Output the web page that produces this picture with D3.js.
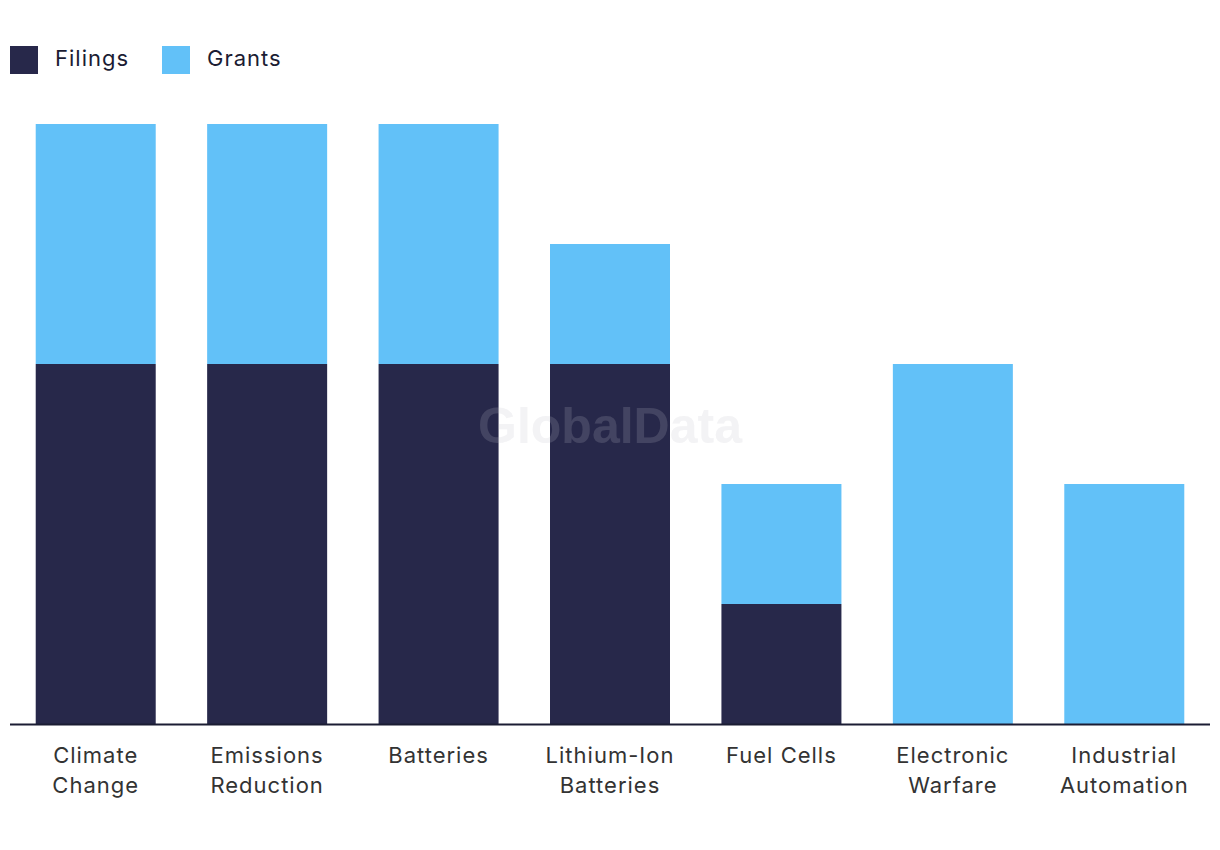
<!DOCTYPE html>
<html>
<head>
<meta charset="utf-8">
<script src="https://cdn.jsdelivr.net/npm/d3@7"></script>
<style>
  body { margin: 0; background: #fff; }
  svg { font-family: Inter, Roboto, "Noto Sans", sans-serif; }
</style>
</head>
<body>
<div id="chart"></div>
<script>
const categories = ['Climate Change', 'Emissions Reduction', 'Batteries', 'Lithium-Ion Batteries', 'Fuel Cells', 'Electronic Warfare', 'Industrial Automation'];
const labelLines = [['Climate', 'Change'], ['Emissions', 'Reduction'], ['Batteries'], ['Lithium-Ion', 'Batteries'], ['Fuel Cells'], ['Electronic', 'Warfare'], ['Industrial', 'Automation']];
const filings = [3, 3, 3, 3, 1, 0, 0];
const grants = [2, 2, 2, 1, 1, 3, 2];
const seriesNames = ['Filings', 'Grants'];

const params = {
    width: 1220,
    height: 850,
    baseline: 724,
    top: 124,
    left: 10,
    right: 1210,
    color: d3.scaleOrdinal().domain(seriesNames).range(['#27284a', '#62c1f8'])
};

const svg = d3.select('#chart')
    .append('svg')
    .attr('width', params.width)
    .attr('height', params.height);

const x = d3.scaleBand()
    .domain(categories)
    .range([params.left, params.right])
    .paddingInner(0.3)
    .paddingOuter(0.15);

const y = d3.scaleLinear()
    .domain([0, 5])
    .range([params.baseline, params.top]);

const rows = categories.map((c, i) => ({ name: c, Filings: filings[i], Grants: grants[i] }));
const stacked = d3.stack().keys(seriesNames)(rows);

function watermark(fill, opacity) {
    svg.append('text')
        .attr('x', 610)
        .attr('y', 443)
        .attr('text-anchor', 'middle')
        .style('font-family', '"Liberation Sans", Arial, sans-serif')
        .style('font-weight', 'bold')
        .style('font-size', '50px')
        .style('fill', fill)
        .style('opacity', opacity)
        .text('GlobalData');
}

watermark('#f2f2f4', 1);

svg.append('g')
    .selectAll('g')
    .data(stacked)
    .enter().append('g')
    .attr('fill', d => params.color(d.key))
    .selectAll('rect')
    .data(d => d)
    .enter().append('rect')
        .attr('x', d => x(d.data.name))
        .attr('y', d => y(d[1]))
        .attr('width', x.bandwidth())
        .attr('height', d => y(d[0]) - y(d[1]));

// watermark over bars, semi transparent
watermark('#ffffff', 0.13);

// x axis line
svg.append('line')
    .attr('x1', params.left)
    .attr('x2', params.right)
    .attr('y1', params.baseline + 0.5)
    .attr('y2', params.baseline + 0.5)
    .attr('stroke', '#1b1c33')
    .attr('stroke-width', 2);

// category labels
const labels = svg.append('g')
    .selectAll('text')
    .data(categories)
    .enter().append('text')
    .attr('text-anchor', 'middle')
    .attr('x', d => x(d) + x.bandwidth() / 2)
    .attr('y', 763)
    .style('font-size', '22px')
    .style('letter-spacing', '1px')
    .style('fill', '#333333');

labels.selectAll('tspan')
    .data((d, i) => labelLines[i])
    .enter().append('tspan')
    .attr('x', function () { return d3.select(this.parentNode).attr('x'); })
    .attr('dy', (d, i) => i === 0 ? 0 : 30)
    .text(d => d);

// legend
const legend = svg.selectAll('.legend')
    .data(seriesNames)
    .enter().append('g')
    .attr('class', 'legend')
    .attr('transform', (d, i) => `translate(${10 + i * 152},46)`);

legend.append('rect')
    .attr('width', 28)
    .attr('height', 28)
    .attr('fill', params.color);

legend.append('text')
    .attr('x', 45)
    .attr('y', 19.5)
    .style('font-size', '22px')
    .style('letter-spacing', '1px')
    .style('fill', '#1b1c33')
    .text(d => d);
</script>
</body>
</html>
